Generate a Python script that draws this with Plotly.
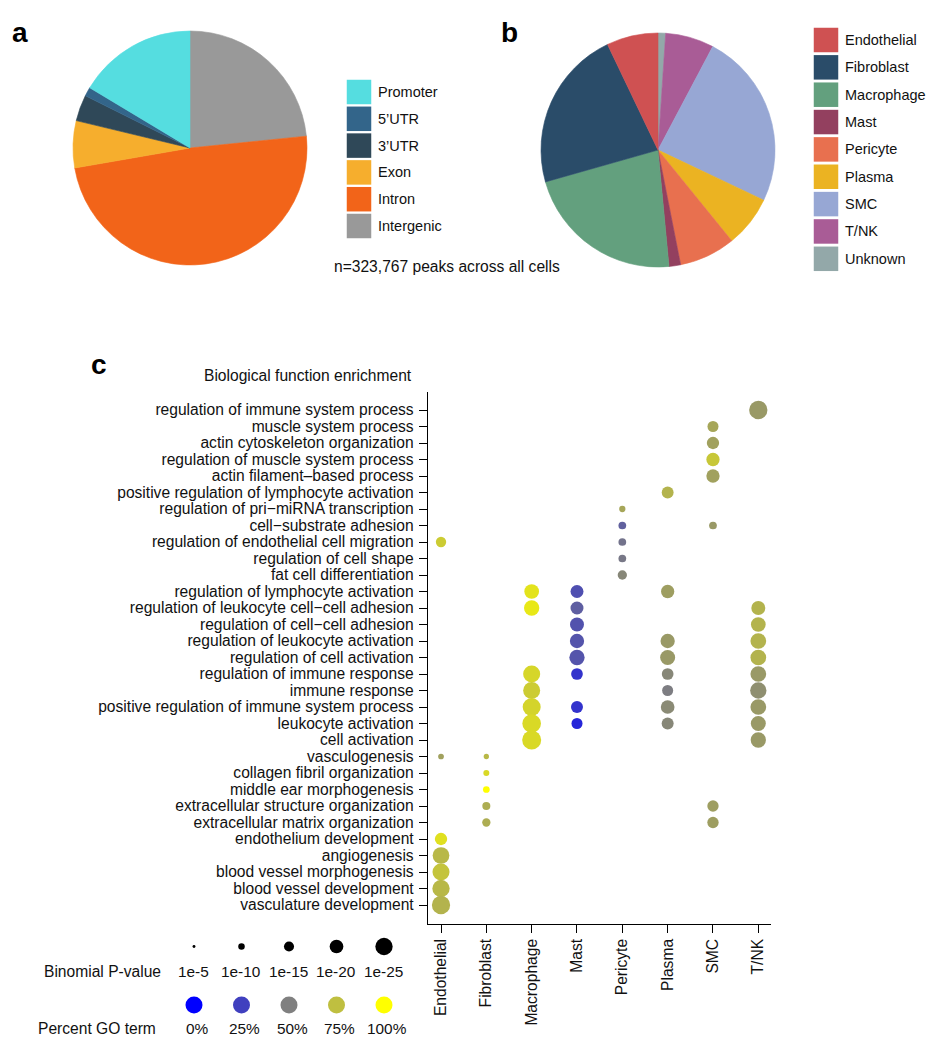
import plotly.graph_objects as go

W, H = 937, 1050
FONT = "Liberation Sans, Arial, Helvetica, sans-serif"
INK = "#111111"

# ---------------- Panel a: genomic annotation of peaks ----------------
region_labels = ["Promoter", "5\u2019UTR", "3\u2019UTR", "Exon", "Intron", "Intergenic"]
region_pct = [16.4, 1.25, 3.6, 6.5, 48.9, 23.4]
region_colors = ["#55dde0", "#33658a", "#2f4858", "#f6ae2d", "#f26419", "#999999"]
peak_note = "n=323,767 peaks across all cells"

# ---------------- Panel b: peaks per cell type ----------------
cell_labels = ["Endothelial", "Fibroblast", "Macrophage", "Mast", "Pericyte",
               "Plasma", "SMC", "T/NK", "Unknown"]
cell_pct = [7.1, 22.3, 22.1, 1.6, 7.75, 7.1, 24.3, 6.7, 1.05]
cell_colors = ["#cf5152", "#2a4c69", "#63a07e", "#93405f", "#e8704f",
               "#ebb322", "#97a7d4", "#a95c96", "#93a8a9"]

# ---------------- Panel c: GO enrichment dot plot ----------------
go_title = "Biological function enrichment"
cell_types = ["Endothelial", "Fibroblast", "Macrophage", "Mast", "Pericyte",
              "Plasma", "SMC", "T/NK"]
terms = [
    "regulation of immune system process",
    "muscle system process",
    "actin cytoskeleton organization",
    "regulation of muscle system process",
    "actin filament\u2013based process",
    "positive regulation of lymphocyte activation",
    "regulation of pri\u2212miRNA transcription",
    "cell\u2212substrate adhesion",
    "regulation of endothelial cell migration",
    "regulation of cell shape",
    "fat cell differentiation",
    "regulation of lymphocyte activation",
    "regulation of leukocyte cell\u2212cell adhesion",
    "regulation of cell\u2212cell adhesion",
    "regulation of leukocyte activation",
    "regulation of cell activation",
    "regulation of immune response",
    "immune response",
    "positive regulation of immune system process",
    "leukocyte activation",
    "cell activation",
    "vasculogenesis",
    "collagen fibril organization",
    "middle ear morphogenesis",
    "extracellular structure organization",
    "extracellular matrix organization",
    "endothelium development",
    "angiogenesis",
    "blood vessel morphogenesis",
    "blood vessel development",
    "vasculature development",
]

# one entry per dot: term index, cell type, -log10(binomial P), percent GO term
dot_term = [0, 1, 2, 3, 4, 5, 6, 7, 7, 8, 8, 9, 10,
            11, 11, 11, 12, 12, 12, 13, 13, 14, 14, 14, 15, 15, 15,
            16, 16, 16, 16, 17, 17, 17, 18, 18, 18, 18, 19, 19, 19, 19, 20, 20,
            21, 21, 22, 23, 24, 24, 25, 25, 26, 27, 28, 29, 30]
dot_cell = ["T/NK", "SMC", "SMC", "SMC", "SMC", "Plasma", "Pericyte", "Pericyte", "SMC",
            "Endothelial", "Pericyte", "Pericyte", "Pericyte",
            "Macrophage", "Mast", "Plasma",
            "Macrophage", "Mast", "T/NK",
            "Mast", "T/NK",
            "Mast", "Plasma", "T/NK",
            "Mast", "Plasma", "T/NK",
            "Macrophage", "Mast", "Plasma", "T/NK",
            "Macrophage", "Plasma", "T/NK",
            "Macrophage", "Mast", "Plasma", "T/NK",
            "Macrophage", "Mast", "Plasma", "T/NK",
            "Macrophage", "T/NK",
            "Endothelial", "Fibroblast", "Fibroblast", "Fibroblast",
            "Fibroblast", "SMC", "Fibroblast", "SMC",
            "Endothelial", "Endothelial", "Endothelial", "Endothelial", "Endothelial"]
dot_neglogp = [26.4, 16.3, 18.1, 19.4, 19.4, 17.5, 9.7, 11.7, 11.7,
               15.3, 11.7, 11.7, 13.9,
               21.4, 19.0, 19.4,
               22.2, 19.0, 20.4,
               20.4, 21.4,
               20.8, 20.8, 22.8,
               22.2, 21.8, 22.8,
               24.6, 17.2, 17.2, 22.8,
               24.6, 16.3, 23.6,
               26.0, 17.6, 20.0, 22.8,
               26.9, 16.3, 17.6, 21.8,
               27.4, 22.2,
               8.9, 8.3, 9.3, 10.3,
               12.1, 16.7, 12.5, 16.7,
               18.1, 24.2, 24.6, 25.0, 26.4]
dot_pct = [60, 65, 63, 78, 63, 70, 65, 38, 60,
           80, 45, 47, 53,
           89, 31, 62,
           91, 37, 70,
           32, 70,
           33, 60, 70,
           33, 60, 70,
           84, 20, 53, 60,
           80, 49, 56,
           83, 20, 54, 60,
           85, 15, 53, 60,
           85, 60,
           63, 72, 85, 100,
           68, 62, 68, 62,
           88, 72, 77, 72, 70]

# legend keys
pval_keys = [5, 10, 15, 20, 25]
pval_labels = ["1e-5", "1e-10", "1e-15", "1e-20", "1e-25"]
pct_keys = [0, 25, 50, 75, 100]
pct_labels = ["0%", "25%", "50%", "75%", "100%"]
pval_title = "Binomial P-value"
pct_title = "Percent GO term"

COLORSCALE = [[0.0, "rgb(0,0,255)"], [1.0, "rgb(255,255,0)"]]


def diam(v):
    return 0.72 * v - 0.7


fig = go.Figure()

# ---- pies (drawn clockwise from 12 o'clock with the last category first,
#      which lays the categories out counter-clockwise in legend order) ----
fig.add_trace(go.Pie(
    values=region_pct[::-1], labels=region_labels[::-1], sort=False,
    direction="clockwise", rotation=0, textinfo="none",
    marker=dict(colors=region_colors[::-1], line=dict(width=0.6, color=region_colors[::-1])),
    domain=dict(x=[73 / W, 307 / W], y=[1 - 265 / H, 1 - 31 / H]),
    showlegend=False, hoverinfo="skip"))
fig.add_trace(go.Pie(
    values=cell_pct[::-1], labels=cell_labels[::-1], sort=False,
    direction="clockwise", rotation=0, textinfo="none",
    marker=dict(colors=cell_colors[::-1], line=dict(width=0.6, color=cell_colors[::-1])),
    domain=dict(x=[541 / W, 775 / W], y=[1 - 267 / H, 1 - 33 / H]),
    showlegend=False, hoverinfo="skip"))

# ---- dot plot ----
fig.add_trace(go.Scatter(
    x=[cell_types.index(c) for c in dot_cell], y=dot_term, mode="markers",
    marker=dict(size=[diam(v) for v in dot_neglogp], color=dot_pct, opacity=1,
                colorscale=COLORSCALE, cmin=0, cmax=100, showscale=False,
                line=dict(width=0)),
    xaxis="x", yaxis="y", showlegend=False, hoverinfo="skip"))

# ---- overlay (pixel) axes for keys ----
annotations = []
A_X, A_Y0, A_DY = 359, 92, 26.8
fig.add_trace(go.Scatter(
    x=[A_X] * len(region_labels), y=[A_Y0 + A_DY * i for i in range(len(region_labels))],
    mode="markers", marker=dict(symbol="square", size=24.5, color=region_colors,
                                opacity=1, line=dict(width=0)),
    xaxis="x2", yaxis="y2", showlegend=False, hoverinfo="skip"))
for i, lab in enumerate(region_labels):
    annotations.append(dict(x=A_X + 17, y=A_Y0 + A_DY * i, text=lab, xref="x2", yref="y2",
                            xanchor="left", yanchor="middle", showarrow=False,
                            font=dict(size=14.5, color=INK, family=FONT)))
B_X, B_Y0, B_DY = 826, 40, 27.35
fig.add_trace(go.Scatter(
    x=[B_X] * len(cell_labels), y=[B_Y0 + B_DY * i for i in range(len(cell_labels))],
    mode="markers", marker=dict(symbol="square", size=24.5, color=cell_colors,
                                opacity=1, line=dict(width=0)),
    xaxis="x2", yaxis="y2", showlegend=False, hoverinfo="skip"))
for i, lab in enumerate(cell_labels):
    annotations.append(dict(x=B_X + 17, y=B_Y0 + B_DY * i, text=lab, xref="x2", yref="y2",
                            xanchor="left", yanchor="middle", showarrow=False,
                            font=dict(size=14.5, color=INK, family=FONT)))

KEY_X = [194, 241.5, 289, 336.5, 384]
fig.add_trace(go.Scatter(
    x=KEY_X, y=[946.5] * len(pval_keys), mode="markers",
    marker=dict(size=[diam(v) for v in pval_keys], color="black", opacity=1,
                line=dict(width=0)),
    xaxis="x2", yaxis="y2", showlegend=False, hoverinfo="skip"))
fig.add_trace(go.Scatter(
    x=KEY_X, y=[1005] * len(pct_keys), mode="markers",
    marker=dict(size=17, color=pct_keys, colorscale=COLORSCALE, cmin=0, cmax=100,
                opacity=1, showscale=False, line=dict(width=0)),
    xaxis="x2", yaxis="y2", showlegend=False, hoverinfo="skip"))
for i, lab in enumerate(pval_labels):
    annotations.append(dict(x=KEY_X[i] - 1, y=971.5, text=lab, xref="x2", yref="y2",
                            xanchor="center", yanchor="middle", showarrow=False,
                            font=dict(size=15.4, color=INK, family=FONT)))
for i, lab in enumerate(pct_labels):
    annotations.append(dict(x=KEY_X[i] + 3, y=1028.5, text=lab, xref="x2", yref="y2",
                            xanchor="center", yanchor="middle", showarrow=False,
                            font=dict(size=15.4, color=INK, family=FONT)))
annotations.append(dict(x=163, y=971.5, text=pval_title, xref="x2", yref="y2",
                        xanchor="right", yanchor="middle", showarrow=False,
                        font=dict(size=15.6, color=INK, family=FONT)))
annotations.append(dict(x=158, y=1028.5, text=pct_title, xref="x2", yref="y2",
                        xanchor="right", yanchor="middle", showarrow=False,
                        font=dict(size=15.6, color=INK, family=FONT)))

# text labels
annotations.append(dict(x=332, y=266, text=peak_note, xref="x2", yref="y2",
                        xanchor="left", yanchor="middle", showarrow=False,
                        font=dict(size=15.6, color=INK, family=FONT)))
annotations.append(dict(x=202, y=375, text=go_title, xref="x2", yref="y2",
                        xanchor="left", yanchor="middle", showarrow=False,
                        font=dict(size=15.6, color=INK, family=FONT)))
for letter, lx, ly in [("a", 10, 32), ("b", 499, 32), ("c", 89, 364)]:
    annotations.append(dict(x=lx, y=ly, text="<b>%s</b>" % letter, xref="x2", yref="y2",
                            xanchor="left", yanchor="middle", showarrow=False,
                            font=dict(size=28, color="black", family=FONT)))

ROW = 16.5
axis_common = dict(showline=True, linecolor="black", linewidth=1.4, ticks="outside",
                   ticklen=8, tickwidth=1.4, tickcolor="black", showgrid=False,
                   zeroline=False, fixedrange=True,
                   tickfont=dict(size=15.6, color=INK, family=FONT))

fig.update_layout(
    width=W, height=H, margin=dict(l=0, r=0, t=0, b=0),
    paper_bgcolor="white", plot_bgcolor="rgba(0,0,0,0)",
    font=dict(family=FONT, color=INK),
    xaxis=dict(domain=[428 / W, 771 / W], range=[-0.287, 7.28],
               tickvals=list(range(len(cell_types))), ticktext=cell_types,
               tickangle=-90, anchor="y", **axis_common),
    yaxis=dict(domain=[1 - 923.5 / H, 1 - 391.7 / H],
               range=[len(terms) - 1 + 18.5 / ROW, -18.3 / ROW],
               tickvals=list(range(len(terms))), ticktext=terms,
               ticklabelstandoff=2, anchor="x", **axis_common),
    xaxis2=dict(domain=[0, 1], range=[0, W], visible=False, anchor="y2", fixedrange=True),
    yaxis2=dict(domain=[0, 1], range=[H, 0], visible=False, anchor="x2", fixedrange=True),
    annotations=annotations,
)

fig.write_html("out.html", config={"displayModeBar": False},
               post_script="document.body.style.margin='0';")
